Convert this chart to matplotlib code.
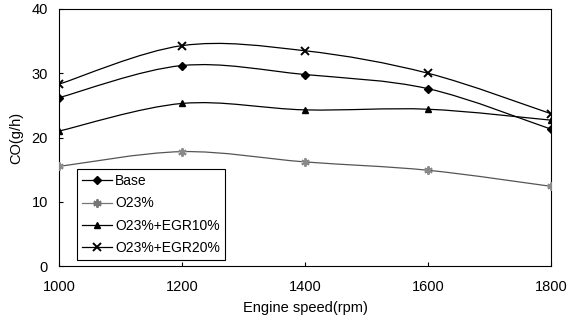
import matplotlib
matplotlib.use("Agg")
import matplotlib.pyplot as plt
import numpy as np
from matplotlib.path import Path
from matplotlib.patches import PathPatch

plt.rcParams["font.family"] = ["Liberation Sans", "DejaVu Sans"]

speed_rpm = [1000, 1200, 1400, 1600, 1800]
co_base = [26.2, 31.2, 29.8, 27.6, 21.3]
co_o23 = [15.5, 17.8, 16.2, 14.9, 12.4]
co_o23_egr10 = [21.0, 25.3, 24.3, 24.4, 22.7]
co_o23_egr20 = [28.3, 34.3, 33.5, 30.0, 23.7]

series = [
    ("Base", co_base, "black", "D", 4.5),
    ("O23%", co_o23, "#8a8a8a", (6, 2, 0), 6),
    ("O23%+EGR10%", co_o23_egr10, "black", "^", 5),
    ("O23%+EGR20%", co_o23_egr20, "black", "x", 6),
]


def smooth_path(x, y, t=1.0 / 6):
    # Excel-style smoothed line: cubic Bezier segments through the points
    x = np.asarray(x, float)
    y = np.asarray(y, float)
    verts = [(x[0], y[0])]
    codes = [Path.MOVETO]
    n = len(x)
    for i in range(n - 1):
        p0 = i - 1 if i > 0 else i
        p3 = i + 2 if i + 2 < n else i + 1
        c1 = (x[i] + (x[i + 1] - x[p0]) * t, y[i] + (y[i + 1] - y[p0]) * t)
        c2 = (x[i + 1] - (x[p3] - x[i]) * t, y[i + 1] - (y[p3] - y[i]) * t)
        verts += [c1, c2, (x[i + 1], y[i + 1])]
        codes += [Path.CURVE4] * 3
    return Path(verts, codes)


fig = plt.figure(figsize=(5.71, 3.2), dpi=100)
ax = fig.add_axes([59 / 571, 1 - 266 / 320, 492 / 571, 257 / 320])

for label, vals, col, mk, ms in series:
    ax.add_patch(PathPatch(smooth_path(speed_rpm, vals), fill=False,
                           edgecolor=col if label != "O23%" else "#555555", lw=0.9))
    ax.plot(speed_rpm, vals, linestyle="none", marker=mk, ms=ms, color=col,
            mew=1.4 if mk in ("x", (6, 2, 0)) else 1.0, zorder=3)
    ax.plot([], [], color=col if label != "O23%" else "#777777", lw=0.9,
            marker=mk, ms=ms, mew=1.4 if mk in ("x", (6, 2, 0)) else 1.0, label=label)

ax.set_xlim(1000, 1800)
ax.set_ylim(0, 40)
ax.set_xticks(speed_rpm)
ax.set_yticks([0, 10, 20, 30, 40])
ax.tick_params(direction="in", length=3, width=0.8, labelsize=10.5, pad=10)
ax.tick_params(axis="y", pad=8)
for s in ax.spines.values():
    s.set_linewidth(0.8)
ax.set_xlabel("Engine speed(rpm)", fontsize=10.5, labelpad=5)
ax.set_ylabel("CO(g/h)", fontsize=10.5, labelpad=6)

leg = ax.legend(loc="lower left", bbox_to_anchor=(18 / 492, 6 / 257), fontsize=10,
                frameon=True, fancybox=False, edgecolor="black", framealpha=1,
                handlelength=2.2, handletextpad=0.2, borderpad=0.35, labelspacing=0.6,
                borderaxespad=0)
leg.get_frame().set_linewidth(0.8)

fig.savefig("out.png", dpi=100)
